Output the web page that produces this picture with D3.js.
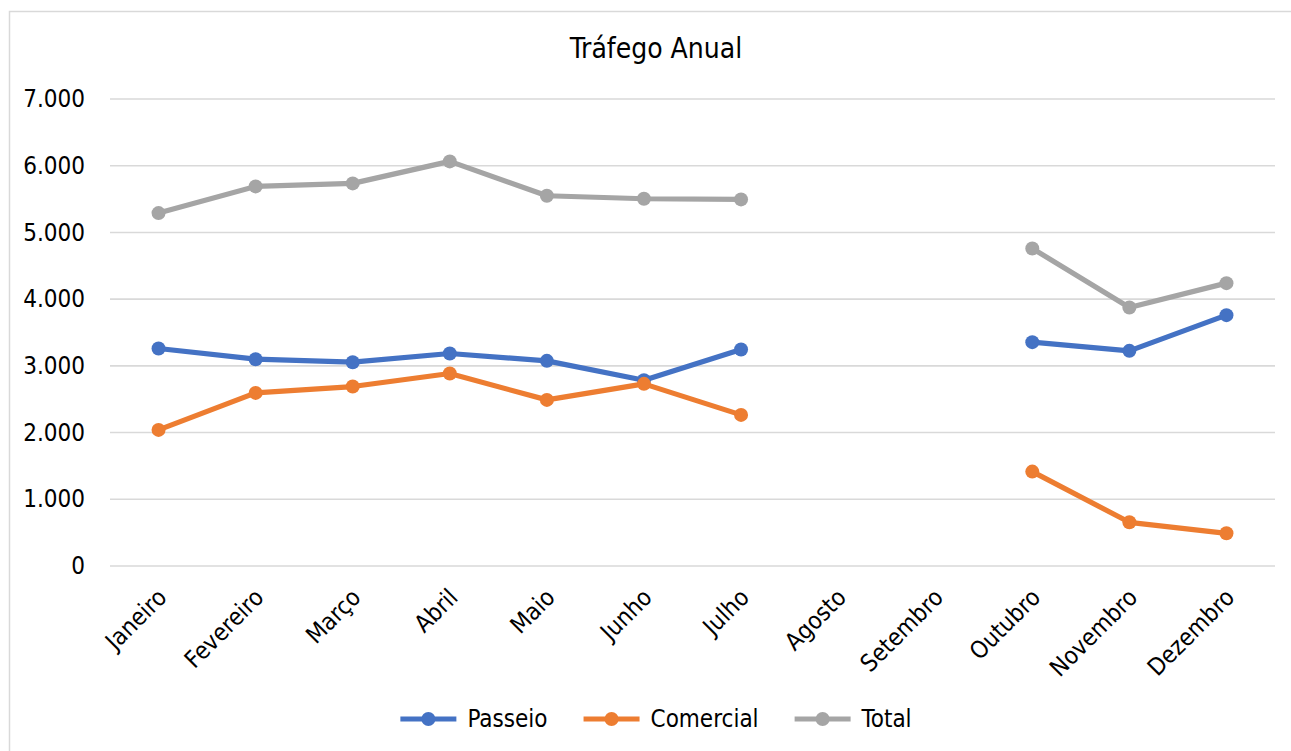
<!DOCTYPE html>
<html><head><meta charset="utf-8">
<script src="https://cdn.jsdelivr.net/npm/d3@7"></script>
<style>
html,body{margin:0;padding:0;background:#fff;}
svg text{font-family:'DejaVu Sans Condensed','DejaVu Sans',sans-serif;font-stretch:condensed;fill:#000;}
</style></head>
<body><svg id="c" width="1291" height="751"></svg>
<script>
const months = ["Janeiro","Fevereiro","Março","Abril","Maio","Junho","Julho","Agosto","Setembro","Outubro","Novembro","Dezembro"];
const passeio   = [3260, 3100, 3055, 3185, 3075, 2785, 3245, null, null, 3355, 3225, 3760];
const comercial = [2040, 2595, 2690, 2885, 2490, 2730, 2265, null, null, 1415, 655, 490];
const total     = [5290, 5690, 5735, 6065, 5550, 5505, 5495, null, null, 4760, 3875, 4240];
const yTicks = [0, 1000, 2000, 3000, 4000, 5000, 6000, 7000];
const seriesNames = ["Passeio","Comercial","Total"];
const seriesColors = ["#4472C4","#ED7D31","#A5A5A5"];
const seriesValues = [passeio, comercial, total];

const svg = d3.select("#c");
// chart border
svg.append("rect").attr("x",9.5).attr("y",11.5).attr("width",1300).attr("height",760)
  .attr("fill","none").attr("stroke","#d9d9d9").attr("stroke-width",1.5);

const x = d3.scalePoint().domain(months).range([110,1275]).padding(0.5);
const y = d3.scaleLinear().domain([0,7000]).range([566,99]);
const fmt = v => d3.format(",")(v).replace(/,/g,".");

// title
svg.append("text").attr("x",656).attr("y",58).attr("text-anchor","middle")
  .style("font-size","28px").text("Tráfego Anual");

// gridlines
svg.append("g").selectAll("line").data(yTicks).join("line")
  .attr("x1",110).attr("x2",1275).attr("y1",d=>y(d)).attr("y2",d=>y(d))
  .attr("stroke","#d9d9d9").attr("stroke-width",1.6);

// y axis labels
const yAxis = d3.axisLeft(y).tickValues(yTicks).tickFormat(fmt).tickSize(0).tickPadding(0);
const ya = svg.append("g").attr("transform","translate(85,0)").call(yAxis);
ya.select(".domain").remove();
ya.selectAll("text").style("font-size","24px").attr("font-family",null).attr("fill","#000");

// x axis labels
const xAxis = d3.axisBottom(x).tickSize(0).tickPadding(0);
const xa = svg.append("g").attr("transform","translate(0,566)").call(xAxis);
xa.select(".domain").remove();
xa.selectAll("text").style("font-size","24px").attr("font-family",null).attr("fill","#000")
  .attr("text-anchor","end").attr("y",0).attr("dy","0.35em")
  .attr("transform","translate(3,27) rotate(-45)");

// series
const line = d3.line().defined(d=>d.v!=null).x(d=>x(d.m)).y(d=>y(d.v));
seriesValues.forEach((vals,i)=>{
  const data = months.map((m,j)=>({m, v: vals[j]}));
  const g = svg.append("g");
  g.append("path").datum(data).attr("d",line).attr("fill","none")
    .attr("stroke",seriesColors[i]).attr("stroke-width",5.2).attr("stroke-linejoin","round");
  g.selectAll("circle").data(data.filter(d=>d.v!=null)).join("circle")
    .attr("cx",d=>x(d.m)).attr("cy",d=>y(d.v)).attr("r",7).attr("fill",seriesColors[i]);
});

// legend
const lg = svg.append("g");
let cx = 0;
seriesNames.forEach((n,i)=>{
  const it = lg.append("g");
  it.append("line").attr("x1",0).attr("x2",56).attr("y1",0).attr("y2",0)
    .attr("stroke",seriesColors[i]).attr("stroke-width",5);
  it.append("circle").attr("cx",28).attr("cy",0).attr("r",7).attr("fill",seriesColors[i]);
  const t = it.append("text").attr("x",67).attr("y",0).attr("dy","0.35em").style("font-size","24px").text(n);
  const w = 67 + t.node().getComputedTextLength();
  it.attr("transform",`translate(${cx},719)`);
  cx += w + 36;
});
const totalW = cx - 36;
lg.attr("transform",`translate(${656 - totalW/2},0)`);
</script></body></html>
